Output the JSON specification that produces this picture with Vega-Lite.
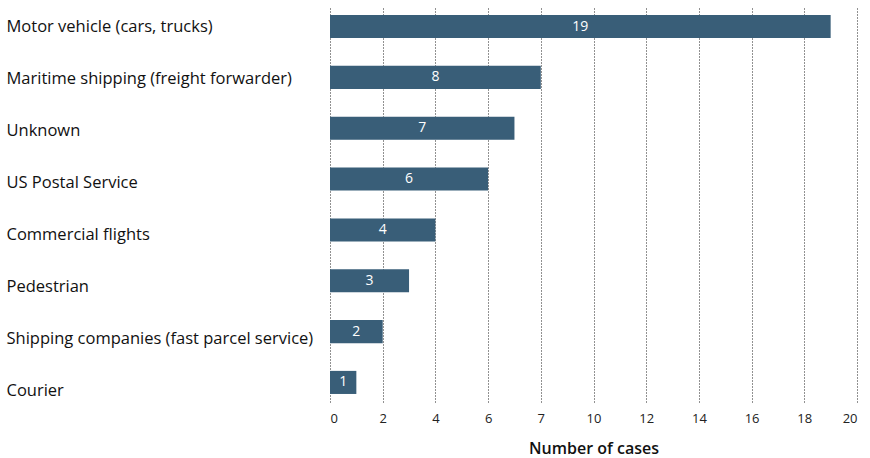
{
  "$schema": "https://vega.github.io/schema/vega-lite/v6.json",
  "width": 527,
  "height": 395,
  "autosize": {"type": "pad"},
  "padding": {"left": 6, "top": 7, "right": 5, "bottom": 5},
  "background": "white",
  "config": {"view": {"stroke": null}, "font": "Open Sans"},
  "data": {
    "values": [
      {"mode": "Motor vehicle (cars, trucks)", "n": 19},
      {"mode": "Maritime shipping (freight forwarder)", "n": 8},
      {"mode": "Unknown", "n": 7},
      {"mode": "US Postal Service", "n": 6},
      {"mode": "Commercial flights", "n": 4},
      {"mode": "Pedestrian", "n": 3},
      {"mode": "Shipping companies (fast parcel service)", "n": 2},
      {"mode": "Courier", "n": 1}
    ]
  },
  "resolve": {"scale": {"y": "independent"}, "axis": {"y": "independent"}},
  "layer": [
    {
      "mark": {"type": "point", "opacity": 0},
      "encoding": {
        "y": {
          "field": "mode",
          "type": "nominal",
          "sort": null,
          "scale": {"type": "point", "padding": 0.288, "align": 0.633},
          "axis": {
            "title": null,
            "domain": false,
            "ticks": false,
            "grid": false,
            "labelAlign": "left",
            "labelPadding": 324,
            "labelFontSize": 16.5,
            "labelColor": "#111111",
            "labelLimit": 400
          }
        }
      }
    },
    {
      "encoding": {
        "y": {
          "field": "mode",
          "type": "nominal",
          "sort": null,
          "scale": {"paddingInner": 0.546, "paddingOuter": 0.158},
          "axis": null
        }
      },
      "layer": [
        {
          "mark": {"type": "bar", "color": "#395E78"},
          "encoding": {
            "x": {
              "field": "n",
              "type": "quantitative",
              "scale": {"domain": [0, 20], "nice": false},
              "axis": {
                "title": "Number of cases",
                "titleFontSize": 16,
                "titleFontWeight": 600,
                "titleColor": "#111111",
                "titlePadding": 15,
                "values": [0, 2, 4, 6, 8, 10, 12, 14, 16, 18, 20],
                "labelExpr": "datum.value == 8 ? '7' : datum.label",
                "labelFontSize": 13,
                "labelColor": "#222222",
                "labelPadding": 10,
                "domain": false,
                "ticks": false,
                "grid": true,
                "gridColor": "#222222",
                "gridDash": [1, 2],
                "gridWidth": 1,
                "gridOpacity": 1
              }
            }
          }
        },
        {
          "transform": [{"calculate": "datum.n / 2", "as": "mid"}],
          "mark": {"type": "text", "color": "white", "fontSize": 14, "baseline": "middle", "align": "center"},
          "encoding": {
            "x": {"field": "mid", "type": "quantitative"},
            "text": {"field": "n", "type": "quantitative"}
          }
        }
      ]
    }
  ]
}
